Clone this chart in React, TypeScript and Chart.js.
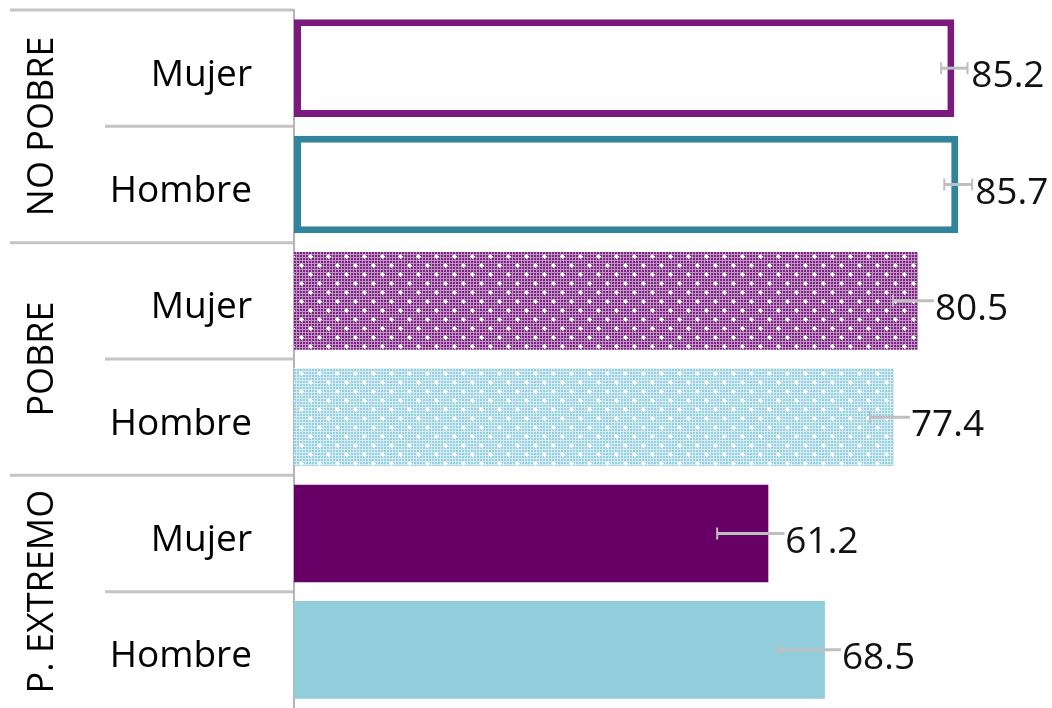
import React, { useEffect, useRef } from "react";
import { Chart, registerables } from "chart.js";

Chart.register(...registerables);

const categories = ["Mujer", "Hombre", "Mujer", "Hombre", "Mujer", "Hombre"];
const groups = ["NO POBRE", "POBRE", "P. EXTREMO"];
const values = [85.2, 85.7, 80.5, 77.4, 61.2, 68.5];
const errors = [1.7, 1.8, 3.2, 3.1, 6.6, 6.1];

const FONT = "'Open Sans', 'DejaVu Sans', sans-serif";

function makePattern(bg: string, square: string): CanvasPattern | string {
  const t = document.createElement("canvas");
  t.width = 18;
  t.height = 18;
  const c = t.getContext("2d");
  if (!c) return square;
  c.fillStyle = bg;
  c.fillRect(0, 0, 18, 18);
  c.fillStyle = square;
  for (let i = 0; i < 6; i++) {
    for (let j = 0; j < 6; j++) {
      c.fillRect(i * 3, j * 3, 2, 2);
    }
  }
  c.fillStyle = "#ffffff";
  const plus = (x: number, y: number) => {
    c.fillRect(x - 2, y, 5, 1);
    c.fillRect(x, y - 2, 1, 5);
    c.fillRect(x - 1, y - 1, 3, 3);
  };
  plus(4, 4);
  plus(13, 13);
  return c.createPattern(t, "repeat") as CanvasPattern;
}

const groupPlugin = {
  id: "groupLabels",
  afterDraw(chart: any) {
    const { ctx, chartArea } = chart;
    const y = chart.scales.y;
    const step = y.getPixelForValue(1) - y.getPixelForValue(0);
    const boundary = (i: number) => y.getPixelForValue(i) - step / 2;
    const axisX = chartArea.left;
    ctx.save();
    ctx.strokeStyle = "#c4c4c4";
    ctx.lineWidth = 3;
    for (let i = 0; i < categories.length; i++) {
      const by = boundary(i);
      const startX = i % 2 === 0 ? 10 : 105;
      ctx.beginPath();
      ctx.moveTo(startX, by);
      ctx.lineTo(axisX - 1, by);
      ctx.stroke();
    }
    ctx.fillStyle = "#000000";
    ctx.font = `36px ${FONT}`;
    ctx.textAlign = "center";
    ctx.textBaseline = "alphabetic";
    groups.forEach((g, gi) => {
      const cy = y.getPixelForValue(gi * 2 + 0.5);
      ctx.save();
      ctx.translate(53, cy);
      ctx.rotate(-Math.PI / 2);
      ctx.fillText(g, 0, 0);
      ctx.restore();
    });
    ctx.restore();
  },
};

const errorPlugin = {
  id: "errorBars",
  afterDatasetsDraw(chart: any) {
    const { ctx } = chart;
    const x = chart.scales.x;
    const y = chart.scales.y;
    ctx.save();
    ctx.strokeStyle = "#bfbfbf";
    values.forEach((v, i) => {
      const cy = y.getPixelForValue(i);
      const x0 = x.getPixelForValue(v - errors[i]);
      const x1 = x.getPixelForValue(v + errors[i]);
      ctx.lineWidth = 3;
      ctx.beginPath();
      ctx.moveTo(x0, cy);
      ctx.lineTo(x1, cy);
      ctx.stroke();
      ctx.lineWidth = 2;
      ctx.beginPath();
      ctx.moveTo(x0, cy - 6);
      ctx.lineTo(x0, cy + 6);
      ctx.moveTo(x1, cy - 6);
      ctx.lineTo(x1, cy + 6);
      ctx.stroke();
    });
    ctx.font = `37px ${FONT}`;
    ctx.textAlign = "left";
    ctx.textBaseline = "alphabetic";
    values.forEach((v, i) => {
      const cy = y.getPixelForValue(i);
      const tx = x.getPixelForValue(v) + 17;
      const label = v.toFixed(1);
      const w = ctx.measureText(label).width;
      ctx.fillStyle = "#ffffff";
      ctx.fillRect(tx - 1, cy - 10, w + 2, 22);
      ctx.fillStyle = "#111111";
      ctx.fillText(label, tx, cy + 19);
    });
    ctx.restore();
  },
};

export default function App() {
  const ref = useRef<HTMLCanvasElement | null>(null);
  useEffect(() => {
    if (!ref.current) return;
    const purplePat = makePattern("#c094c4", "#7a2480");
    const bluePat = makePattern("#d4ecf2", "#96cfdd");
    const fills = ["#ffffff", "#ffffff", purplePat, bluePat, "#660066", "#92cddc"];
    const borders = ["#7a1a7e", "#31849b", "#000000", "#000000", "#660066", "#92cddc"];
    const borderWidths = [7, 7, 0, 0, 0, 0];
    const chart = new Chart(ref.current, {
      type: "bar",
      data: {
        labels: categories,
        datasets: [
          {
            data: values,
            backgroundColor: fills as any,
            borderColor: borders,
            borderWidth: borderWidths,
            borderSkipped: false,
            categoryPercentage: 1.0,
            barPercentage: 0.84,
          },
        ],
      },
      options: {
        indexAxis: "y",
        animation: false,
        responsive: false,
        maintainAspectRatio: false,
        layout: { padding: { top: 10, left: 0, right: 0, bottom: 0 } },
        plugins: {
          legend: { display: false },
          tooltip: { enabled: false },
        },
        scales: {
          x: {
            display: false,
            min: 0,
            max: 97.8,
          },
          y: {
            afterFit: (scale: any) => {
              scale.width = 294;
              scale.paddingTop = 0;
              scale.paddingBottom = 0;
            },
            grid: { display: true, drawOnChartArea: false, drawTicks: false },
            border: { display: true, color: "#b5b5b5", width: 2 },
            ticks: {
              color: "#000000",
              font: { family: FONT, size: 37 },
              padding: 42,
              labelOffset: 7,
              autoSkip: false,
            },
          },
        },
      },
      plugins: [groupPlugin, errorPlugin],
    });
    return () => chart.destroy();
  }, []);
  return (
    <div style={{ position: "fixed", left: 0, top: 0, width: 1052, height: 708, background: "#ffffff" }}>
      <canvas ref={ref} width={1052} height={708} style={{ display: "block" }} />
    </div>
  );
}
